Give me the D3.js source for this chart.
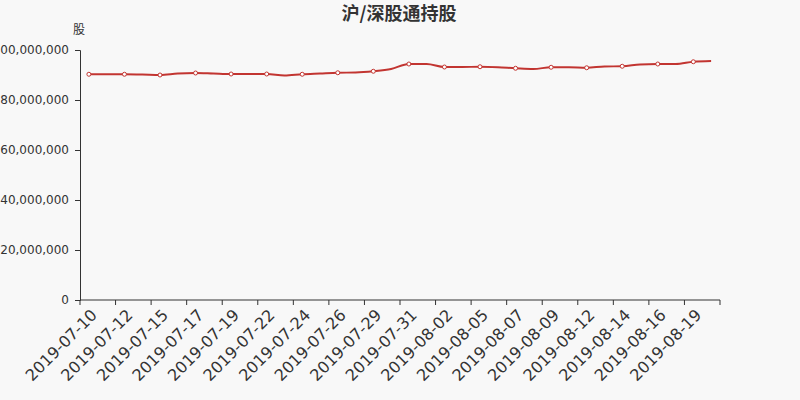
<!DOCTYPE html>
<html><head><meta charset="utf-8">
<script src="https://cdn.jsdelivr.net/npm/d3@7/dist/d3.min.js"></script>
<style>
html,body{margin:0;padding:0;background:#f8f8f8;}
svg{display:block;font-family:"DejaVu Sans",sans-serif;}
</style></head>
<body>
<svg id="chart" width="800" height="400"></svg>
<script>
const title = "沪/深股通持股";
const unitLabel = "股";
const dates = ["2019-07-10","2019-07-11","2019-07-12","2019-07-13","2019-07-15","2019-07-16","2019-07-17","2019-07-18","2019-07-19","2019-07-20","2019-07-22","2019-07-23","2019-07-24","2019-07-25","2019-07-26","2019-07-27","2019-07-29","2019-07-30","2019-07-31","2019-08-01","2019-08-02","2019-08-03","2019-08-05","2019-08-06","2019-08-07","2019-08-08","2019-08-09","2019-08-10","2019-08-12","2019-08-13","2019-08-14","2019-08-15","2019-08-16","2019-08-17","2019-08-19","2019-08-20"];
const holdings = [90300000,90300000,90300000,90200000,90000000,90600000,90800000,90600000,90400000,90400000,90400000,89800000,90300000,90600000,90900000,91000000,91500000,92400000,94400000,94400000,93200000,93200000,93300000,93100000,92700000,92400000,93100000,93100000,92900000,93400000,93500000,94200000,94400000,94400000,95300000,95600000];
const yTicks = [0,20000000,40000000,60000000,80000000,100000000];

const svg = d3.select("#chart");
const m = {left:80, right:80, top:50, bottom:100};
const W = 800, H = 400;
const x = d3.scaleBand().domain(dates).range([m.left, W - m.right]);
const y = d3.scaleLinear().domain([0,100000000]).range([H - m.bottom, m.top]);
const axisColor = "#333";

// title
svg.append("text").attr("x",399).attr("y",20).attr("text-anchor","middle")
  .attr("font-size",18).attr("font-weight","bold").attr("fill","#333")
  .attr("font-family","'Noto Sans CJK SC',sans-serif").text(title);
svg.append("text").attr("x",79).attr("y",34).attr("text-anchor","middle")
  .attr("font-size",12).attr("fill","#333")
  .attr("font-family","'Noto Sans CJK SC',sans-serif").text(unitLabel);

// y axis
const fmt = d3.format(",");
const gy = svg.append("g").attr("transform",`translate(${m.left},0)`)
  .call(d3.axisLeft(y).tickValues(yTicks).tickFormat(fmt).tickSize(5).tickPadding(6));
gy.selectAll("text").attr("font-size",12).attr("fill",axisColor).attr("font-family","'DejaVu Sans'");
gy.selectAll("line,path").attr("stroke",axisColor);

// x axis: ticks at category boundaries every 2 categories
const gx = svg.append("g").attr("transform",`translate(0,${H - m.bottom})`);
gx.append("line").attr("x1",m.left).attr("x2",W - m.right).attr("stroke",axisColor);
const bw = x.bandwidth();
const tickIdx = d3.range(0, dates.length + 1, 2);
gx.selectAll("line.tk").data(tickIdx).enter().append("line").attr("class","tk")
  .attr("x1",i=>m.left + i*bw).attr("x2",i=>m.left + i*bw).attr("y1",0).attr("y2",5).attr("stroke",axisColor);
const labelIdx = d3.range(0, dates.length, 2);
gx.selectAll("text").data(labelIdx).enter().append("text")
  .attr("transform",i=>`translate(${x(dates[i]) + bw/2 + 1},8) rotate(-45)`)
  .attr("text-anchor","end").attr("dy","0.72em")
  .attr("font-size",16).attr("fill",axisColor).attr("font-family","'DejaVu Sans'")
  .text(i=>dates[i]);

// line
const color = "#c23531";
const line = d3.line().x((d,i)=>x(dates[i]) + bw/2).y(d=>y(d)).curve(d3.curveMonotoneX);
svg.append("path").datum(holdings).attr("d",line).attr("fill","none").attr("stroke",color).attr("stroke-width",2);
svg.selectAll("circle.pt").data(holdings.map((v,i)=>({v,i})).filter(d=>d.i%2===0)).enter()
  .append("circle").attr("class","pt").attr("cx",d=>x(dates[d.i]) + bw/2).attr("cy",d=>y(d.v))
  .attr("r",2).attr("fill","#fff").attr("stroke",color).attr("stroke-width",1);
</script>
</body></html>
